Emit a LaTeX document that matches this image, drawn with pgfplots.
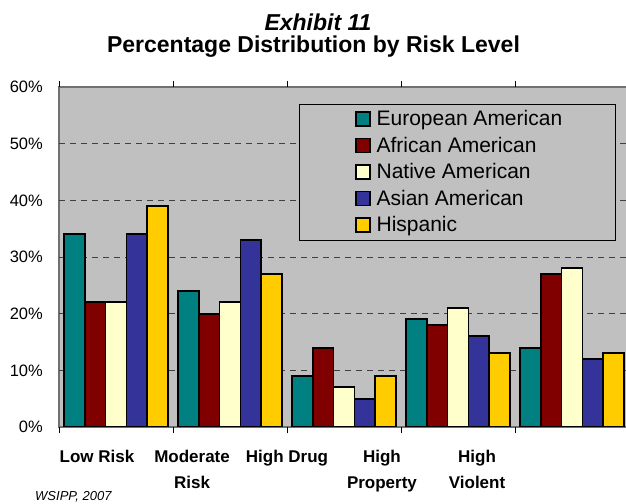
\documentclass[border=0pt]{standalone}
\usepackage{pgfplots}
\pgfplotsset{compat=1.18}
\usepackage{fontspec}
\setmainfont{Liberation Sans}
\definecolor{bgray}{HTML}{C0C0C0}
\definecolor{cteal}{HTML}{008080}
\definecolor{cred}{HTML}{800000}
\definecolor{cyel}{HTML}{FFFFCC}
\definecolor{cblue}{HTML}{333399}
\definecolor{cgold}{HTML}{FFCC00}
\definecolor{axgray}{HTML}{707070}
\definecolor{gridc}{HTML}{404040}
\begin{document}
\begin{tikzpicture}
\useasboundingbox (0,0) rectangle (626bp,504bp);
\clip (0,0) rectangle (626bp,504bp);
\node[anchor=base, font=\fontsize{23bp}{27bp}\selectfont\bfseries\itshape] at (318bp,473bp) {Exhibit 11};
\node[anchor=base, font=\fontsize{23bp}{27bp}\selectfont\bfseries] at (313.5bp,451bp) {Percentage Distribution by Risk Level};
\node[anchor=base west, inner sep=0pt, font=\fontsize{13bp}{15bp}\selectfont\itshape] at (35bp,4bp) {WSIPP, 2007};
\begin{axis}[
 at={(59bp,77bp)}, anchor=south west,
 scale only axis, width=570bp, height=340bp,
 xmin=-0.5, xmax=4.5, ymin=0, ymax=60,
 axis background/.style={fill=bgray},
 axis line style={draw=axgray, line width=1.2bp},
 ybar=0pt, bar width=20.8bp,
 tick align=outside,
 major tick length=0pt,
 xtick={-0.167,0.667,1.5,2.333,3.167},
 xticklabels={Low Risk,{Moderate\\Risk},High Drug,{High\\Property},{High\\Violent}},
 xticklabel style={inner sep=0pt, anchor=north, yshift=-23bp, align=center, font=\fontsize{17bp}{26bp}\selectfont\bfseries},
 ytick={0,10,...,60},
 yticklabels={0\%,10\%,20\%,30\%,40\%,50\%,60\%},
 yticklabel style={inner sep=0pt, anchor=east, xshift=-16bp, font=\fontsize{16.5bp}{20bp}\selectfont},
 extra x ticks={-0.5,0.5,1.5,2.5,3.5,4.5},
 extra x tick labels={},
 extra x tick style={major tick length=6bp, tick style={draw=black, line width=1bp}},
 extra y ticks={10,20,30,40,50},
 extra y tick labels={},
 extra y tick style={grid=major},
 grid style={dash pattern=on 6bp off 5bp, draw=gridc, line width=0.8bp},
 legend style={at={(0.519,0.945)}, anchor=north west, draw=none, fill=none, inner sep=0pt, row sep=0pt, column sep=4bp,
   font=\fontsize{21bp}{24bp}\selectfont, cells={anchor=west, text height=15bp, text depth=0pt}},
 legend image code/.code={\path[draw=none, fill=none] (0bp,-13.25bp) rectangle (14bp,13.25bp); \draw[#1, line width=1.6bp] (0bp,-7bp) rectangle (14bp,7bp);},
 every axis plot/.append style={draw=black, line width=1.7bp},
]
\addplot[fill=cteal] coordinates {(0,34) (1,24) (2,9) (3,19) (4,14)};
\addplot[fill=cred] coordinates {(0,22) (1,20) (2,14) (3,18) (4,27)};
\addplot[fill=cyel] coordinates {(0,22) (1,22) (2,7) (3,21) (4,28)};
\addplot[fill=cblue] coordinates {(0,34) (1,33) (2,5) (3,16) (4,12)};
\addplot[fill=cgold] coordinates {(0,39) (1,27) (2,9) (3,13) (4,13)};
\draw[fill=bgray, draw=black, line width=0.8bp] (rel axis cs:0.421,0.55) rectangle (rel axis cs:0.977,0.95);
\draw[black, line width=1bp] (rel axis cs:0,0) -- (rel axis cs:1,0);
\legend{European American, African American, Native American, Asian American, Hispanic}
\end{axis}
\end{tikzpicture}
\end{document}
